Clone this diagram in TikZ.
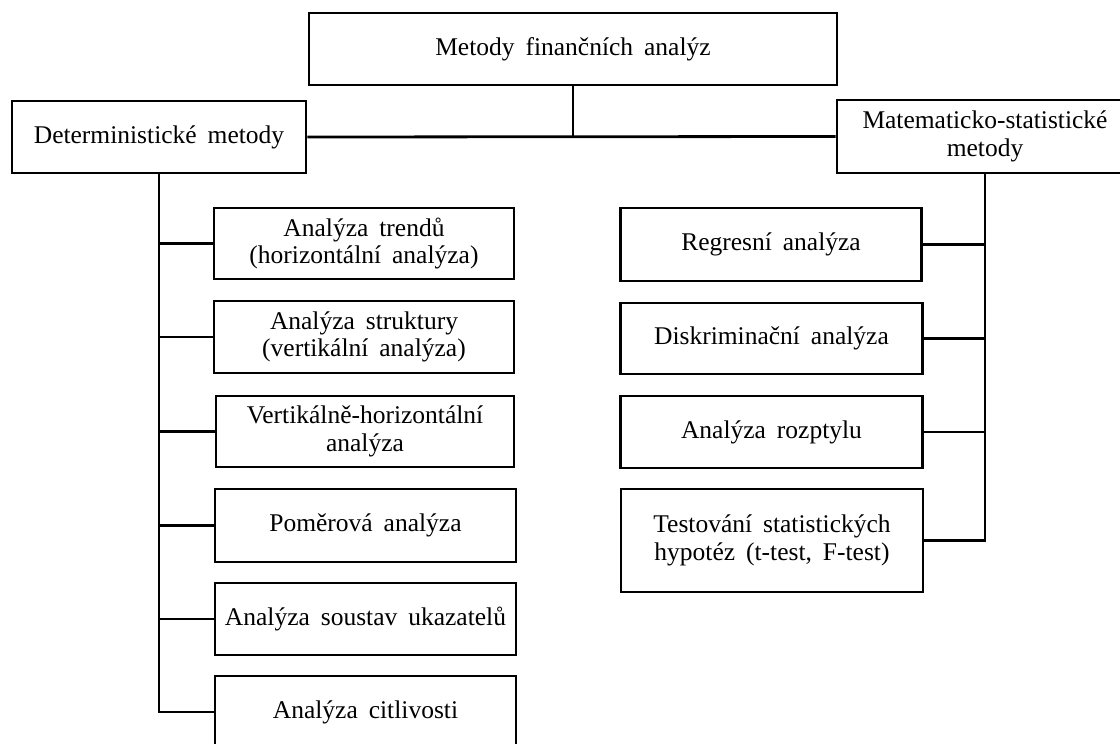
\documentclass[tikz,border=0pt]{standalone}
\usepackage{fontspec}
\setmainfont{Liberation Serif}
\newcommand\boxfont{\fontsize{25.5}{27.5}\selectfont\spaceskip 0.43em\relax}
\tikzset{
  box/.style={draw, line width=2.8pt, rectangle, align=center, inner sep=0pt,
    font=\boxfont},
  conn/.style={line width=2.8pt}
}
\begin{document}
\begin{tikzpicture}[x=1pt,y=-1pt]
\useasboundingbox (0,0) rectangle (1120,744);
\clip (0,0) rectangle (1120,744);
\node[box, minimum width=528pt, minimum height=72pt] (top) at (573,49) {Metody finančních analýz};
\node[box, minimum width=294pt, minimum height=72pt] (det) at (159,137) {Deterministické metody};
\node[box, minimum width=296pt, minimum height=73pt] (mat) at (985,136.5) {Matematicko-statistické\\metody};
\node[box, minimum width=300pt, minimum height=71pt] (l1) at (364,243.5) {Analýza trendů\\(horizontální analýza)};
\node[box, minimum width=300pt, minimum height=72pt] (l2) at (364,337) {Analýza struktury\\(vertikální analýza)};
\node[box, minimum width=298pt, minimum height=71pt] (l3) at (365,431.5) {Vertikálně-horizontální\\analýza};
\node[box, minimum width=301pt, minimum height=73pt] (l4) at (365.5,525.5) {Poměrová analýza};
\node[box, minimum width=301pt, minimum height=72pt] (l5) at (365.5,619) {Analýza soustav ukazatelů};
\node[box, minimum width=301pt, minimum height=72pt] (l6) at (365.5,712) {Analýza citlivosti};
\node[box, minimum width=301pt, minimum height=73pt] (r1) at (771,244.5) {Regresní analýza};
\node[box, minimum width=302pt, minimum height=71pt] (r2) at (771.5,338.5) {Diskriminační analýza};
\node[box, minimum width=302pt, minimum height=72pt] (r3) at (771.5,432) {Analýza rozptylu};
\node[box, minimum width=302pt, minimum height=103pt] (r4) at (772,540.5) {Testování statistických\\hypotéz (t-test, F-test)};
\draw[conn] (top.south) -- (top.south |- det.east);
\draw[conn] (det.east) -- (mat.west);
\draw[conn] (det.south) -- (det.south |- l6.west) -- (l6.west);
\foreach \n in {l1,l2,l3,l4,l5} \draw[conn] (det.south |- \n.west) -- (\n.west);
\draw[conn] (mat.south) -- (mat.south |- r4.east) -- (r4.east);
\foreach \n in {r1,r2,r3} \draw[conn] (mat.south |- \n.east) -- (\n.east);
\end{tikzpicture}
\end{document}
